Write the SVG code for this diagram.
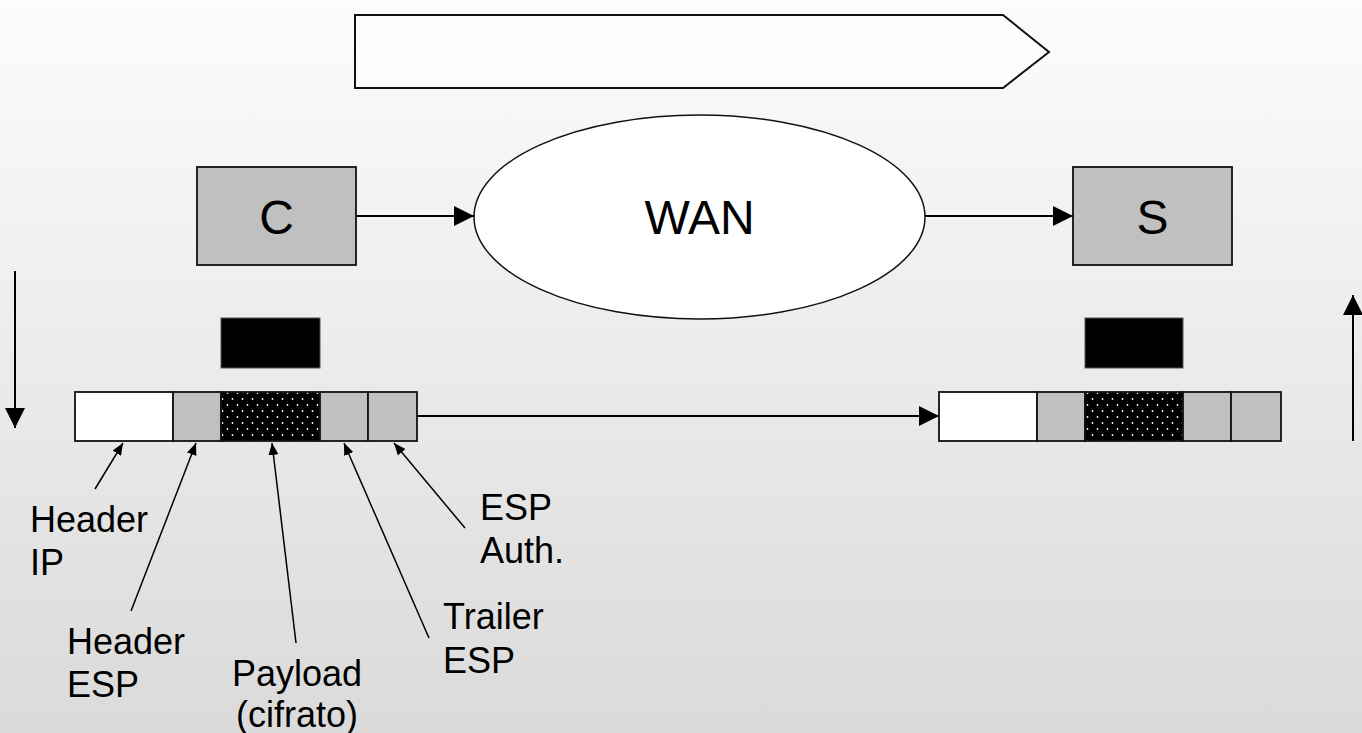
<svg xmlns="http://www.w3.org/2000/svg" width="1362" height="733" viewBox="0 0 1362 733">
<defs>
<linearGradient id="bg" x1="0" y1="0" x2="0" y2="1">
<stop offset="0" stop-color="#fcfcfc"/>
<stop offset="1" stop-color="#dadada"/>
</linearGradient>
<pattern id="dots" width="10" height="12" patternUnits="userSpaceOnUse">
<rect width="10" height="12" fill="#000"/>
<circle cx="2.5" cy="3" r="0.9" fill="#fff"/>
<circle cx="7.5" cy="9" r="0.9" fill="#fff"/>
</pattern>
<marker id="big" markerWidth="20" markerHeight="20" viewBox="0 0 20 20" refX="20" refY="10" orient="auto" markerUnits="userSpaceOnUse">
<path d="M0,0 L20,10 L0,20 Z" fill="#000"/>
</marker>
<marker id="small" markerWidth="12" markerHeight="10" viewBox="0 0 12 10" refX="12" refY="5" orient="auto" markerUnits="userSpaceOnUse">
<path d="M0,0 L12,5 L0,10 Z" fill="#000"/>
</marker>
</defs>
<style>
.box{fill:#c0c0c0;stroke:#111;stroke-width:1.8}
.w{fill:#fff;stroke:#111;stroke-width:1.8}
.g{fill:#c0c0c0;stroke:#111;stroke-width:1.8}
.d{fill:url(#dots);stroke:#111;stroke-width:1.8}
.big{font-family:"Liberation Sans",Arial,sans-serif;font-size:48px;fill:#000;text-anchor:middle}
.lbl{font-family:"Liberation Sans",Arial,sans-serif;font-size:36px;fill:#000}
.c{stroke:#000;stroke-width:2;fill:none}
.cs{stroke:#000;stroke-width:1.5;fill:none}
</style>
<rect width="1362" height="733" fill="url(#bg)"/>

<g id="banner">
<path d="M355,15 L1003,15 L1049,52 L1003,88 L355,88 Z" fill="#fdfdfd" stroke="#111" stroke-width="2"/>
</g>

<g id="nodeC">
<rect class="box" x="197" y="167" width="159" height="98"/>
<text class="big" x="276.5" y="234">C</text>
</g>
<g id="wan">
<ellipse cx="699.5" cy="217" rx="225.5" ry="102" fill="#fff" stroke="#111" stroke-width="1.5"/>
<text class="big" x="699.5" y="234">WAN</text>
</g>
<g id="nodeS">
<rect class="box" x="1073" y="167" width="159" height="98"/>
<text class="big" x="1152.5" y="234">S</text>
</g>

<g id="keyLeft"><rect x="221" y="318" width="99" height="50" fill="#000" stroke="#555" stroke-width="1"/></g>
<g id="keyRight"><rect x="1085" y="318" width="98" height="50" fill="#000" stroke="#555" stroke-width="1"/></g>

<g id="packetLeft">
<rect class="w" x="75" y="392" width="98" height="49"/>
<rect class="g" x="173" y="392" width="48" height="49"/>
<rect class="d" x="221" y="392" width="99" height="49"/>
<rect class="g" x="320" y="392" width="48" height="49"/>
<rect class="g" x="368" y="392" width="49" height="49"/>
</g>
<g id="packetRight">
<rect class="w" x="939" y="392" width="98" height="49"/>
<rect class="g" x="1037" y="392" width="48" height="49"/>
<rect class="d" x="1085" y="392" width="98" height="49"/>
<rect class="g" x="1183" y="392" width="48" height="49"/>
<rect class="g" x="1231" y="392" width="50" height="49"/>
</g>

<g id="labels">
<text class="lbl" x="30" y="532">Header</text>
<text class="lbl" x="30" y="575">IP</text>
<text class="lbl" x="67" y="654">Header</text>
<text class="lbl" x="67" y="697">ESP</text>
<text class="lbl" x="232" y="686">Payload</text>
<text class="lbl" x="236" y="727">(cifrato)</text>
<text class="lbl" x="443" y="629">Trailer</text>
<text class="lbl" x="443" y="673">ESP</text>
<text class="lbl" x="480" y="520">ESP</text>
<text class="lbl" x="480" y="563">Auth.</text>
</g>

<g id="connectors">
<line class="c" x1="356" y1="216" x2="474" y2="216" marker-end="url(#big)"/>
<line class="c" x1="925" y1="216" x2="1073" y2="216" marker-end="url(#big)"/>
<line class="c" x1="417" y1="416" x2="939" y2="416" marker-end="url(#big)"/>
<line class="c" x1="15" y1="271" x2="15" y2="428" marker-end="url(#big)"/>
<line class="c" x1="1353" y1="441" x2="1353" y2="295" marker-end="url(#big)"/>
<line class="cs" x1="95" y1="489" x2="123" y2="443" marker-end="url(#small)"/>
<line class="cs" x1="131" y1="611" x2="196" y2="443" marker-end="url(#small)"/>
<line class="cs" x1="296" y1="643" x2="272" y2="443" marker-end="url(#small)"/>
<line class="cs" x1="429" y1="638" x2="344" y2="443" marker-end="url(#small)"/>
<line class="cs" x1="465" y1="528" x2="394" y2="443" marker-end="url(#small)"/>
</g>
</svg>
